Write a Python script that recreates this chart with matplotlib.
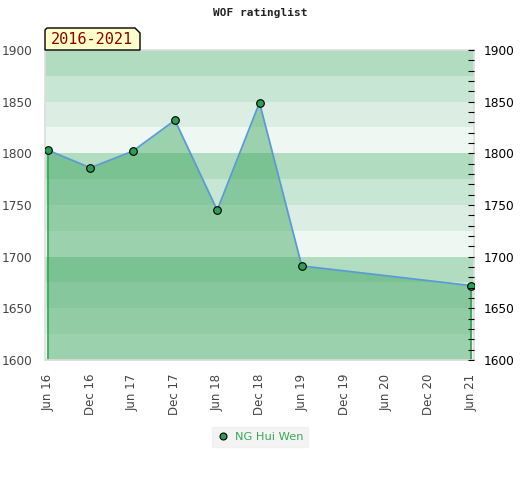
import matplotlib
matplotlib.use('Agg')
import matplotlib.pyplot as plt
from matplotlib.patches import Polygon
from matplotlib.lines import Line2D
from matplotlib.ticker import MultipleLocator

# ratings (months counted from Jun 2016)
months = [0, 6, 12, 18, 24, 30, 36, 60]
ratings = [1803, 1786, 1802, 1832, 1745, 1849, 1691, 1672]
tick_months = [0, 6, 12, 18, 24, 30, 36, 42, 48, 54, 60]
tick_labels = ['Jun 16', 'Dec 16', 'Jun 17', 'Dec 17', 'Jun 18', 'Dec 18',
               'Jun 19', 'Dec 19', 'Jun 20', 'Dec 20', 'Jun 21']
player = 'NG Hui Wen'
period = '2016-2021'

W, H = 520, 480
fig = plt.figure(figsize=(W / 100, H / 100), dpi=100)
ax = fig.add_axes([45 / W, 1 - 360 / H, 429 / W, 310 / H])

# striped background
band_cols = ['#b2dcc0', '#c8e6d4', '#dceee3', '#eef7f1']
top = 1900
i = 0
while top > 1600:
    ax.axhspan(top - 25, top, color=band_cols[i % 4], lw=0, zorder=0)
    top -= 25
    i += 1

ax.fill_between(months, ratings, 1600, color='#31a055', alpha=0.43, lw=0, zorder=1)
ax.vlines([months[0], months[-1]], 1600, [ratings[0], ratings[-1]], color='#2ea252', lw=1.2, zorder=2)
ax.plot(months, ratings, color='#5b9bd5', lw=1.3, zorder=3)
ax.plot(months, ratings, 'o', ms=5.5, mfc='#2e9e55', mec='black', mew=0.8, zorder=4)

ax.set_xlim(-0.43, 60.43)
ax.set_ylim(1600, 1900)
ax.set_xticks(tick_months)
ax.set_xticklabels(tick_labels, rotation=90, color='#444444', fontsize=8.5)
ax.set_yticks(range(1600, 1901, 50))
ax.tick_params(axis='y', length=0, pad=9, labelsize=8.7, labelcolor='#444444')
ax.tick_params(axis='x', length=0, pad=10)
for s in ax.spines.values():
    s.set_color('#dddddd')
    s.set_linewidth(1.2)

ax2 = ax.twinx()
ax2.set_ylim(1600, 1900)
ax2.set_yticks(range(1600, 1901, 50))
ax2.yaxis.set_minor_locator(MultipleLocator(10))
ax2.tick_params(axis='y', which='both', direction='in', length=4, width=0.8, labelsize=8.7, pad=7)
for s in ax2.spines.values():
    s.set_visible(False)

fig.text(0.5, 1 - 13 / H, 'WOF ratinglist', ha='center', va='center',
         family='DejaVu Sans Mono', fontsize=8, fontweight='bold', color='#222222')

# period label with cut corners
pts = [(45, 50), (45, 30), (47, 28), (135, 28), (140, 33), (140, 50)]
poly = Polygon([(x / W, 1 - y / H) for x, y in pts], closed=True, transform=fig.transFigure,
               facecolor='#ffffcc', edgecolor='black', lw=1, zorder=5)
fig.patches.append(poly)
fig.text(92 / W, 1 - 40 / H, period, ha='center', va='center', family='DejaVu Sans Mono',
         fontsize=11, color='#8b0000', zorder=6)

h = Line2D([], [], ls='none', marker='o', ms=5, mfc='#2e9e55', mec='black', mew=0.8)
leg = fig.legend([h], [player], loc='center', bbox_to_anchor=(0.5, 1 - 437 / H),
                 frameon=True, fancybox=False, facecolor='#f0f0f0', edgecolor='#f0f0f0',
                 fontsize=8.2, handletextpad=0.5, handlelength=1.2, borderpad=0.4)
for t in leg.get_texts():
    t.set_color('#3aa757')

fig.savefig('out.png', dpi=100)
